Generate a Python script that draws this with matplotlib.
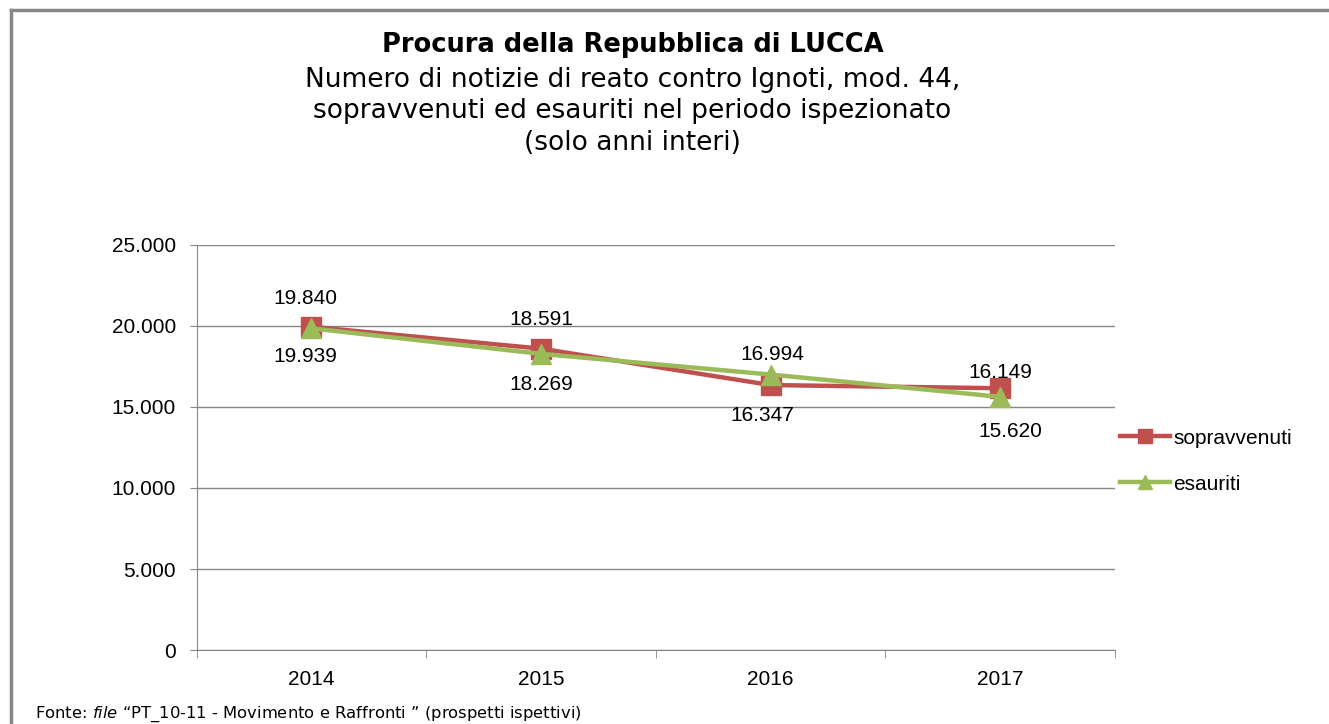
import matplotlib.pyplot as plt
from matplotlib.lines import Line2D
from matplotlib.ticker import FuncFormatter

plt.rcParams["mathtext.fontset"] = "dejavusans"

# values
anni = ["2014", "2015", "2016", "2017"]
sopravvenuti = [19939, 18591, 16347, 16149]
esauriti = [19840, 18269, 16994, 15620]

# label offsets in pixels (x right, y down) for each data label
off_sopr = [(-6, 30), (0, -29), (-8, 30), (0, -16)]
off_esau = [(-6, -30), (0, 31), (2, -20), (10, 35)]

red = "#C0504D"
green = "#9BBB59"

fig = plt.figure(figsize=(13.29, 7.24), dpi=100)
ax = fig.add_axes([0.148, 0.102, 0.691, 0.560])

x = list(range(len(anni)))
ax.plot(x, sopravvenuti, color=red, lw=3.2, marker="s", ms=15, label="sopravvenuti", zorder=3)
ax.plot(x, esauriti, color=green, lw=3.2, marker="^", ms=15, label="esauriti", zorder=4)

fmt = lambda v: f"{v:,}".replace(",", ".")
for i in x:
    dx, dy = off_sopr[i]
    ax.annotate(fmt(sopravvenuti[i]), (i, sopravvenuti[i]), xytext=(dx * 0.72, -dy * 0.72),
                textcoords="offset points", ha="center", va="center",
                fontsize=15, family="Liberation Sans", zorder=5)
    dx, dy = off_esau[i]
    ax.annotate(fmt(esauriti[i]), (i, esauriti[i]), xytext=(dx * 0.72, -dy * 0.72),
                textcoords="offset points", ha="center", va="center",
                fontsize=15, family="Liberation Sans", zorder=5)

ax.set_xlim(-0.5, 3.5)
ax.set_ylim(0, 25000)
ax.set_yticks(range(0, 25001, 5000))
ax.yaxis.set_major_formatter(FuncFormatter(lambda v, p: fmt(int(v))))
ax.set_xticks(x)
ax.set_xticklabels(anni)
ax.set_xticks([-0.5, 0.5, 1.5, 2.5, 3.5], minor=True)
ax.tick_params(axis="x", which="major", length=0, pad=14)
ax.tick_params(axis="x", which="minor", length=6, color="#868686", direction="out")
ax.tick_params(axis="y", length=5, color="#868686", pad=10)
for lab in ax.get_xticklabels() + ax.get_yticklabels():
    lab.set_family("Liberation Sans")
    lab.set_fontsize(15)
ax.grid(axis="y", color="#868686", lw=1)
ax.set_axisbelow(True)
for s in ["top", "right"]:
    ax.spines[s].set_visible(False)
ax.spines["left"].set_color("#868686")
ax.spines["bottom"].set_color("#868686")

fig.legend(loc="center left", bbox_to_anchor=(0.829, 0.363), frameon=False,
           prop={"family": "Liberation Sans", "size": 15}, labelspacing=1.3,
           handlelength=2.4, handletextpad=0.15, markerscale=0.7)

fig.text(0.476, 0.938, "Procura della Repubblica di LUCCA", ha="center", va="center",
         fontsize=18.5, fontweight="bold")
fig.text(0.476, 0.846, "Numero di notizie di reato contro Ignoti, mod. 44,\n"
         "sopravvenuti ed esauriti nel periodo ispezionato\n(solo anni interi)",
         ha="center", va="center", fontsize=19, linespacing=1.26)

fig.text(0.026, 0.013, "Fonte: $\\mathit{file}$ \u201cPT_10-11 - Movimento e Raffronti \u201d (prospetti ispettivi)",
         fontsize=11.8, va="center")

# frame of the chart area
fig.add_artist(Line2D([0.0085, 0.0085], [0, 0.986], color="#888888", lw=2.5, transform=fig.transFigure))
fig.add_artist(Line2D([0.0085, 1.0], [0.986, 0.986], color="#888888", lw=2.5, transform=fig.transFigure))

fig.savefig("out.png", dpi=100)
